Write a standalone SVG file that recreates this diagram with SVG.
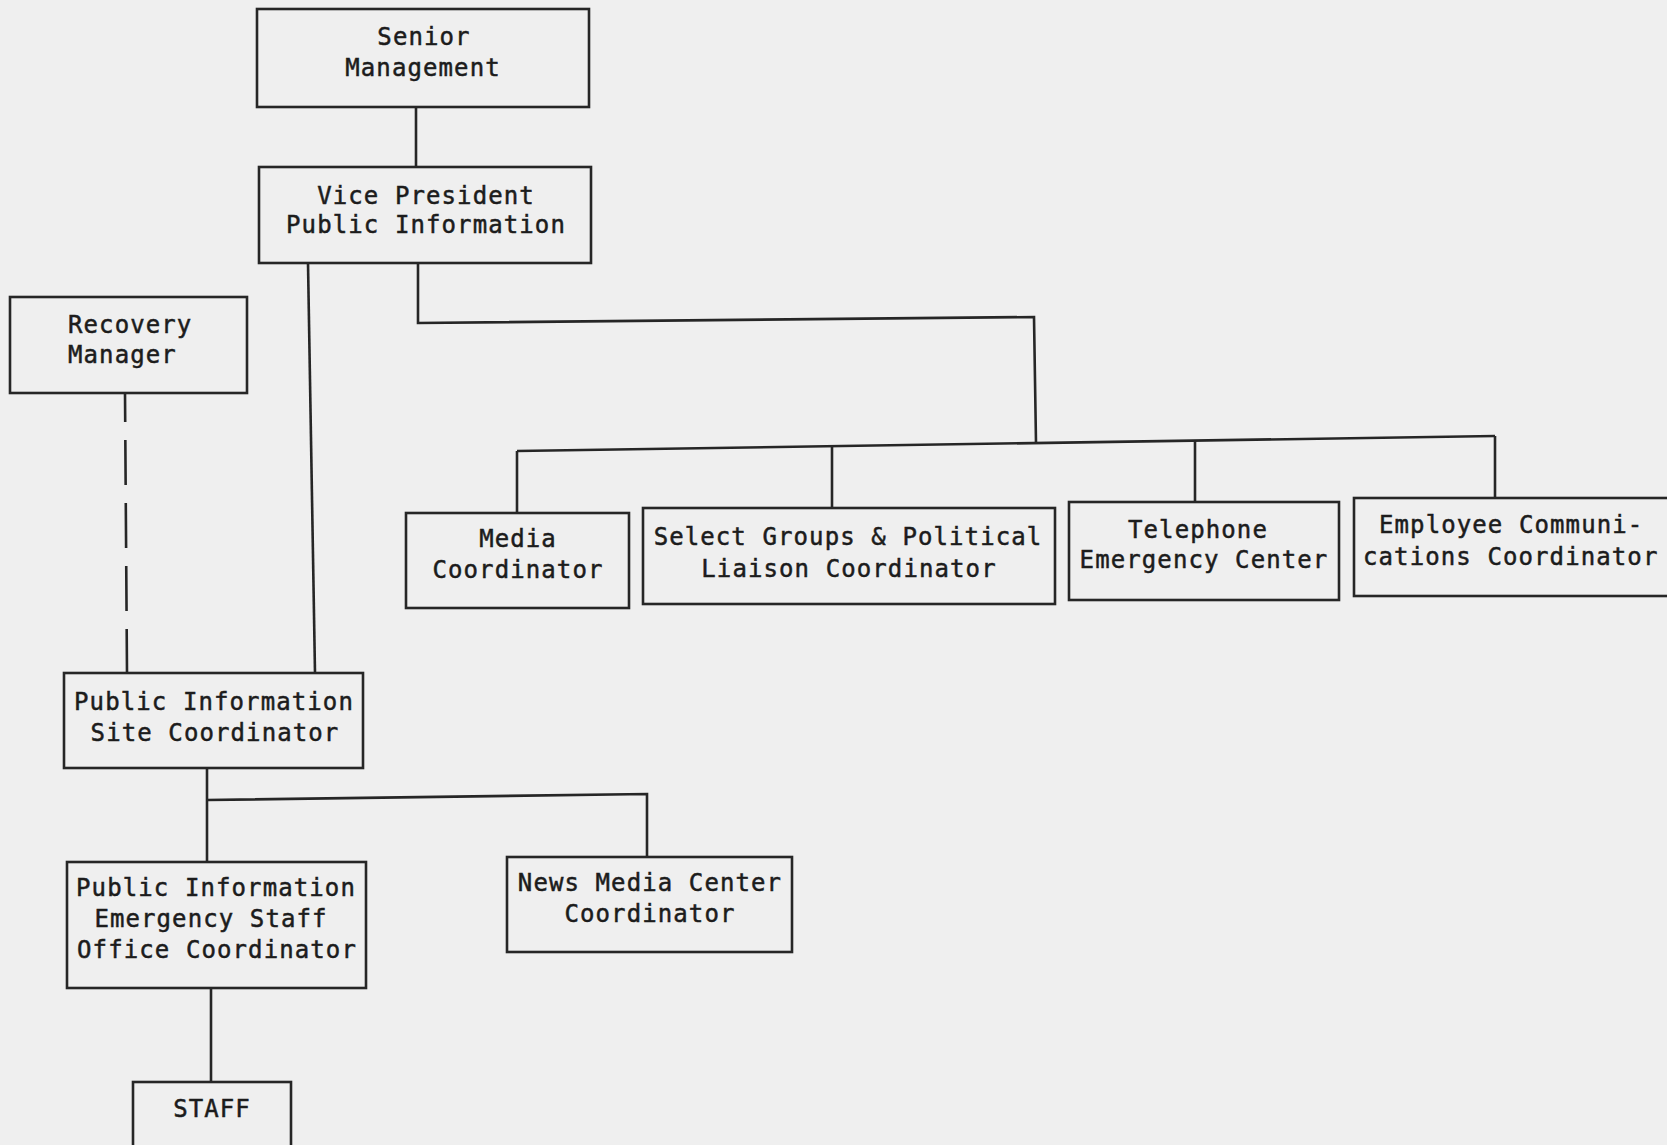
<svg xmlns="http://www.w3.org/2000/svg" width="1667" height="1145" viewBox="0 0 1667 1145">
<style>
.box{fill:none;stroke:#262626;stroke-width:2.6}
.ln{fill:none;stroke:#262626;stroke-width:2.6}
.dash{stroke-dasharray:45 18;stroke-dashoffset:16}
text{font-family:"DejaVu Sans Mono","Liberation Mono",monospace;font-size:24px;letter-spacing:1.1px;fill:#1c1c1c;stroke:#1c1c1c;stroke-width:0.5px}
.m{text-anchor:middle}
</style>
<rect x="0" y="0" width="1667" height="1145" fill="#efefef"/>
<g id="connectors">
<path class="ln" d="M416 107 V167"/>
<path class="ln" d="M308 263 L315 673"/>
<path class="ln" d="M418 263 V323 L1034 317 L1036 443"/>
<path class="ln" d="M517 451 L1495 436"/>
<path class="ln" d="M517 451 V513"/>
<path class="ln" d="M832 446 V508"/>
<path class="ln" d="M1195 441 V502"/>
<path class="ln" d="M1495 436 V498"/>
<path class="ln dash" d="M125 393 L127 673"/>
<path class="ln" d="M207 768 V862"/>
<path class="ln" d="M207 800 L647 794 V857"/>
<path class="ln" d="M211 988 V1082"/>
</g>
<g id="senior-management">
<rect class="box" x="257" y="9" width="332" height="98"/>
<text class="m" x="424" y="45">Senior</text>
<text class="m" x="423" y="76">Management</text>
</g>
<g id="vice-president">
<rect class="box" x="259" y="167" width="332" height="96"/>
<text class="m" x="426" y="204">Vice President</text>
<text class="m" x="426" y="233">Public Information</text>
</g>
<g id="recovery-manager">
<rect class="box" x="10" y="297" width="237" height="96"/>
<text x="68" y="333">Recovery</text>
<text x="68" y="363">Manager</text>
</g>
<g id="media-coordinator">
<rect class="box" x="406" y="513" width="223" height="95"/>
<text class="m" x="518" y="547">Media</text>
<text class="m" x="518" y="578">Coordinator</text>
</g>
<g id="select-groups">
<rect class="box" x="643" y="508" width="412" height="96"/>
<text class="m" x="848" y="545">Select Groups &amp; Political</text>
<text class="m" x="849" y="577">Liaison Coordinator</text>
</g>
<g id="telephone-emergency-center">
<rect class="box" x="1069" y="502" width="270" height="98"/>
<text class="m" x="1198" y="538">Telephone</text>
<text class="m" x="1204" y="568">Emergency Center</text>
</g>
<g id="employee-communications">
<rect class="box" x="1354" y="498" width="330" height="98"/>
<text x="1379" y="533">Employee Communi-</text>
<text x="1363" y="565">cations Coordinator</text>
</g>
<g id="pi-site-coordinator">
<rect class="box" x="64" y="673" width="299" height="95"/>
<text class="m" x="214" y="710">Public Information</text>
<text class="m" x="215" y="741">Site Coordinator</text>
</g>
<g id="pi-emergency-staff">
<rect class="box" x="67" y="862" width="299" height="126"/>
<text class="m" x="216" y="896">Public Information</text>
<text class="m" x="211" y="927">Emergency Staff</text>
<text class="m" x="217" y="958">Office Coordinator</text>
</g>
<g id="news-media-center">
<rect class="box" x="507" y="857" width="285" height="95"/>
<text class="m" x="650" y="891">News Media Center</text>
<text class="m" x="650" y="922">Coordinator</text>
</g>
<g id="staff">
<rect class="box" x="133" y="1082" width="158" height="80"/>
<text class="m" x="212" y="1117">STAFF</text>
</g>
</svg>
